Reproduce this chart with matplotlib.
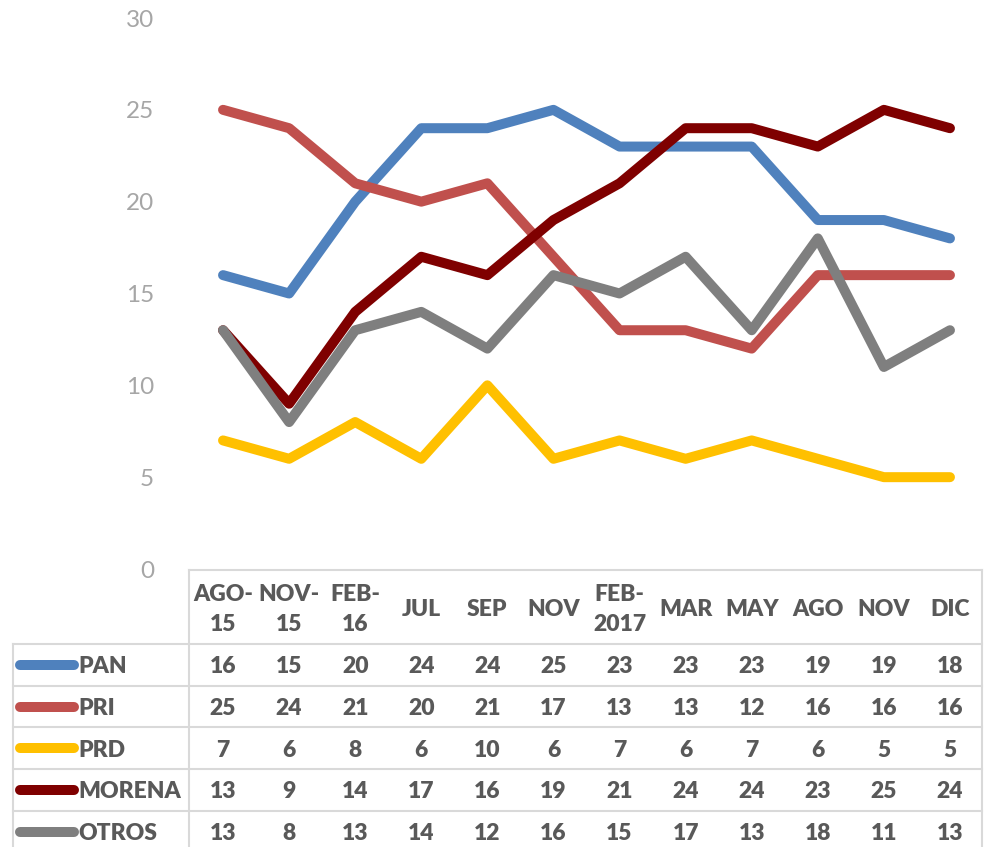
import matplotlib
matplotlib.use("Agg")
import matplotlib.pyplot as plt
from matplotlib.transforms import blended_transform_factory
from matplotlib.lines import Line2D

# data
months = ["AGO-\n15", "NOV-\n15", "FEB-\n16", "JUL", "SEP", "NOV",
          "FEB-\n2017", "MAR", "MAY", "AGO", "NOV", "DIC"]
series_names = ["PAN", "PRI", "PRD", "MORENA", "OTROS"]
pan = [16, 15, 20, 24, 24, 25, 23, 23, 23, 19, 19, 18]
pri = [25, 24, 21, 20, 21, 17, 13, 13, 12, 16, 16, 16]
prd = [7, 6, 8, 6, 10, 6, 7, 6, 7, 6, 5, 5]
morena = [13, 9, 14, 17, 16, 19, 21, 24, 24, 23, 25, 24]
otros = [13, 8, 13, 14, 12, 16, 15, 17, 13, 18, 11, 13]
colors = ["#4f81bd", "#c0504d", "#ffc000", "#7f0000", "#7f7f7f"]
yticks = [0, 5, 10, 15, 20, 25, 30]

values = [pan, pri, prd, morena, otros]

W, H = 992, 847
fig = plt.figure(figsize=(W / 100, H / 100), dpi=100)

def fy(px):
    return 1 - px / H

def fx(px):
    return px / W

ax = fig.add_axes([fx(190), fy(569), fx(983) - fx(190), fy(18) - fy(569)])
x = list(range(len(months)))
for vals, c in zip(values, colors):
    ax.plot(x, vals, color=c, lw=7.2, solid_capstyle="round", solid_joinstyle="round")

ax.set_xlim(-0.5, len(months) - 0.5)
ax.set_ylim(0, 30)
ax.set_yticks(yticks)
ax.set_xticks([])
for s in ax.spines.values():
    s.set_visible(False)
ax.tick_params(axis="y", length=0, pad=26, labelsize=17.5, labelcolor="#a6a6a6")
for lab in ax.get_yticklabels():
    lab.set_family("Lato")

# data table under the plot
tc = "#595959"
gc = "#d9d9d9"
tr = blended_transform_factory(ax.transData, fig.transFigure)
header_top, header_bot, row_h = 569.5, 644, 41.7
left_px, sep_px, right_px = 13, 189, 982

# lines
fig.add_artist(Line2D([fx(sep_px), fx(right_px)], [fy(header_top)] * 2, color=gc, lw=1.5))
fig.add_artist(Line2D([fx(sep_px)] * 2, [fy(header_top), 0], color=gc, lw=1.5))
fig.add_artist(Line2D([fx(right_px)] * 2, [fy(header_top), 0], color=gc, lw=1.5))
fig.add_artist(Line2D([fx(left_px)] * 2, [fy(header_bot), 0], color=gc, lw=1.5))
for i in range(len(series_names)):
    yl = header_bot + i * row_h
    fig.add_artist(Line2D([fx(left_px), fx(right_px)], [fy(yl)] * 2, color=gc, lw=1.5))

font = dict(family="Lato", weight="heavy", fontsize=16.5, color=tc)
for i, m in enumerate(months):
    fig.text(i, fy((header_top + header_bot) / 2 + 2.5), m, transform=tr,
             ha="center", va="center", linespacing=1.55, **font)

for r, (name, vals, c) in enumerate(zip(series_names, values, colors)):
    yc = fy(header_bot + (r + 0.5) * row_h)
    yt = fy(header_bot + (r + 0.5) * row_h + 2)
    fig.add_artist(Line2D([fx(20), fx(74)], [yc, yc], color=c, lw=7.2,
                          solid_capstyle="round"))
    fig.text(fx(78), yt, name, ha="left", va="center", **font)
    for i, v in enumerate(vals):
        fig.text(i, yt, str(v), transform=tr, ha="center", va="center", **font)

fig.savefig("out.png", dpi=100)
